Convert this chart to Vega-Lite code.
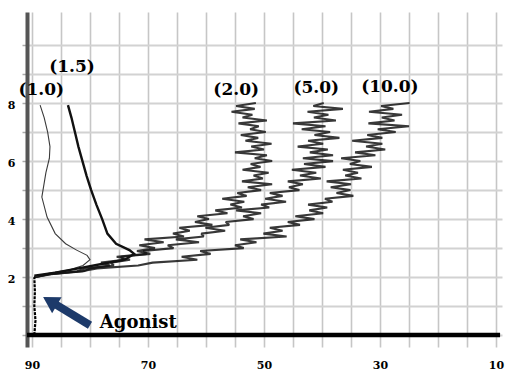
{
  "$schema": "https://vega.github.io/schema/vega-lite/v6.json",
  "width": 475,
  "height": 335,
  "autosize": {"type": "none"},
  "padding": {"left": 27, "top": 12, "right": 6, "bottom": 32},
  "background": "white",
  "config": {"view": {"stroke": null}},
  "datasets": {
    "traces": [
      {"s":"base","t":0,"v":89.6},{"s":"base","t":0.5,"v":89.4},{"s":"base","t":1.0,"v":89.6},{"s":"base","t":1.5,"v":89.5},{"s":"base","t":2.0,"v":89.6},
      {"s":"1.0","t":2.0,"v":89.6},{"s":"1.0","t":2.07,"v":88.5},{"s":"1.0","t":2.14,"v":86.9},{"s":"1.0","t":2.25,"v":83.5},{"s":"1.0","t":2.4,"v":81.2},{"s":"1.0","t":2.6,"v":80.0},{"s":"1.0","t":2.75,"v":80.5},{"s":"1.0","t":2.93,"v":82.3},{"s":"1.0","t":3.15,"v":84.2},{"s":"1.0","t":3.5,"v":86.0},{"s":"1.0","t":4.07,"v":87.4},{"s":"1.0","t":4.76,"v":88.3},{"s":"1.0","t":5.0,"v":88.1},{"s":"1.0","t":5.6,"v":87.6},{"s":"1.0","t":6.1,"v":87.0},{"s":"1.0","t":6.5,"v":86.9},{"s":"1.0","t":7.0,"v":87.3},{"s":"1.0","t":7.5,"v":87.9},{"s":"1.0","t":7.93,"v":88.6},
      {"s":"1.5","t":2.05,"v":89.6},{"s":"1.5","t":2.15,"v":86.0},{"s":"1.5","t":2.3,"v":82.0},{"s":"1.5","t":2.45,"v":78.0},{"s":"1.5","t":2.6,"v":74.0},{"s":"1.5","t":2.8,"v":72.4},{"s":"1.5","t":2.93,"v":73.2},{"s":"1.5","t":3.15,"v":75.5},{"s":"1.5","t":3.5,"v":77.0},{"s":"1.5","t":4.0,"v":77.9},{"s":"1.5","t":4.5,"v":78.9},{"s":"1.5","t":5.0,"v":79.8},{"s":"1.5","t":5.5,"v":80.6},{"s":"1.5","t":6.0,"v":81.3},{"s":"1.5","t":6.5,"v":82.0},{"s":"1.5","t":7.0,"v":82.6},{"s":"1.5","t":7.5,"v":83.2},{"s":"1.5","t":7.93,"v":83.8},
      {"s":"2.0","t":2.0,"v":89.6},{"s":"2.0","t":2.1,"v":86.7},{"s":"2.0","t":2.2,"v":81.1},{"s":"2.0","t":2.3,"v":79.9},{"s":"2.0","t":2.4,"v":76.6},{"s":"2.0","t":2.5,"v":78.1},{"s":"2.0","t":2.6,"v":74.1},{"s":"2.0","t":2.7,"v":74.7},{"s":"2.0","t":2.8,"v":69.6},{"s":"2.0","t":2.9,"v":71.9},{"s":"2.0","t":3.0,"v":68.8},{"s":"2.0","t":3.1,"v":71.5},{"s":"2.0","t":3.2,"v":67.3},{"s":"2.0","t":3.3,"v":70.6},{"s":"2.0","t":3.4,"v":63.8},{"s":"2.0","t":3.5,"v":65.7},{"s":"2.0","t":3.6,"v":62.8},{"s":"2.0","t":3.7,"v":64.6},{"s":"2.0","t":3.8,"v":58.9},{"s":"2.0","t":3.9,"v":61.9},{"s":"2.0","t":4.0,"v":59.5},{"s":"2.0","t":4.1,"v":61.5},{"s":"2.0","t":4.2,"v":56.3},{"s":"2.0","t":4.3,"v":58.4},{"s":"2.0","t":4.4,"v":53.8},{"s":"2.0","t":4.5,"v":55.8},{"s":"2.0","t":4.6,"v":53.4},{"s":"2.0","t":4.7,"v":57.2},{"s":"2.0","t":4.8,"v":53.0},{"s":"2.0","t":4.9,"v":54.6},{"s":"2.0","t":5.0,"v":50.5},{"s":"2.0","t":5.1,"v":52.8},{"s":"2.0","t":5.2,"v":48.6},{"s":"2.0","t":5.3,"v":53.8},{"s":"2.0","t":5.4,"v":50.2},{"s":"2.0","t":5.5,"v":51.8},{"s":"2.0","t":5.6,"v":49.2},{"s":"2.0","t":5.7,"v":53.7},{"s":"2.0","t":5.8,"v":50.6},{"s":"2.0","t":5.9,"v":52.3},{"s":"2.0","t":6.0,"v":48.6},{"s":"2.0","t":6.1,"v":51.6},{"s":"2.0","t":6.2,"v":49.5},{"s":"2.0","t":6.3,"v":55.0},{"s":"2.0","t":6.4,"v":50.0},{"s":"2.0","t":6.5,"v":52.2},{"s":"2.0","t":6.6,"v":48.7},{"s":"2.0","t":6.7,"v":53.2},{"s":"2.0","t":6.8,"v":51.0},{"s":"2.0","t":6.9,"v":54.0},{"s":"2.0","t":7.0,"v":49.7},{"s":"2.0","t":7.1,"v":52.4},{"s":"2.0","t":7.2,"v":50.9},{"s":"2.0","t":7.3,"v":54.4},{"s":"2.0","t":7.4,"v":49.5},{"s":"2.0","t":7.5,"v":53.7},{"s":"2.0","t":7.6,"v":52.0},{"s":"2.0","t":7.7,"v":55.6},{"s":"2.0","t":7.8,"v":51.6},{"s":"2.0","t":7.9,"v":54.8},{"s":"2.0","t":8.0,"v":51.4},
      {"s":"5.0","t":2.0,"v":89.6},{"s":"5.0","t":2.1,"v":87.0},{"s":"5.0","t":2.2,"v":82.2},{"s":"5.0","t":2.3,"v":80.9},{"s":"5.0","t":2.4,"v":75.9},{"s":"5.0","t":2.5,"v":76.4},{"s":"5.0","t":2.6,"v":73.1},{"s":"5.0","t":2.7,"v":75.4},{"s":"5.0","t":2.8,"v":70.2},{"s":"5.0","t":2.9,"v":70.8},{"s":"5.0","t":3.0,"v":65.6},{"s":"5.0","t":3.1,"v":66.6},{"s":"5.0","t":3.2,"v":61.2},{"s":"5.0","t":3.3,"v":65.2},{"s":"5.0","t":3.4,"v":60.4},{"s":"5.0","t":3.5,"v":60.8},{"s":"5.0","t":3.6,"v":56.7},{"s":"5.0","t":3.7,"v":60.1},{"s":"5.0","t":3.8,"v":56.0},{"s":"5.0","t":3.9,"v":56.6},{"s":"5.0","t":4.0,"v":51.8},{"s":"5.0","t":4.1,"v":53.6},{"s":"5.0","t":4.2,"v":50.5},{"s":"5.0","t":4.3,"v":54.8},{"s":"5.0","t":4.4,"v":49.1},{"s":"5.0","t":4.5,"v":50.5},{"s":"5.0","t":4.6,"v":46.2},{"s":"5.0","t":4.7,"v":49.8},{"s":"5.0","t":4.8,"v":46.8},{"s":"5.0","t":4.9,"v":49.0},{"s":"5.0","t":5.0,"v":43.9},{"s":"5.0","t":5.1,"v":45.7},{"s":"5.0","t":5.2,"v":43.3},{"s":"5.0","t":5.3,"v":45.9},{"s":"5.0","t":5.4,"v":40.2},{"s":"5.0","t":5.5,"v":43.8},{"s":"5.0","t":5.6,"v":41.0},{"s":"5.0","t":5.7,"v":45.2},{"s":"5.0","t":5.8,"v":39.4},{"s":"5.0","t":5.9,"v":43.1},{"s":"5.0","t":6.0,"v":38.1},{"s":"5.0","t":6.1,"v":43.3},{"s":"5.0","t":6.2,"v":38.1},{"s":"5.0","t":6.3,"v":42.1},{"s":"5.0","t":6.4,"v":39.0},{"s":"5.0","t":6.5,"v":44.2},{"s":"5.0","t":6.6,"v":39.8},{"s":"5.0","t":6.7,"v":42.4},{"s":"5.0","t":6.8,"v":37.0},{"s":"5.0","t":6.9,"v":41.3},{"s":"5.0","t":7.0,"v":38.6},{"s":"5.0","t":7.1,"v":43.5},{"s":"5.0","t":7.2,"v":39.4},{"s":"5.0","t":7.3,"v":45.0},{"s":"5.0","t":7.4,"v":37.6},{"s":"5.0","t":7.5,"v":41.4},{"s":"5.0","t":7.6,"v":38.9},{"s":"5.0","t":7.7,"v":42.5},{"s":"5.0","t":7.8,"v":36.4},{"s":"5.0","t":7.9,"v":41.5},{"s":"5.0","t":8.0,"v":39.7},
      {"s":"10.0","t":2.0,"v":89.6},{"s":"10.0","t":2.1,"v":87.2},{"s":"10.0","t":2.2,"v":81.4},{"s":"10.0","t":2.3,"v":78.8},{"s":"10.0","t":2.4,"v":71.7},{"s":"10.0","t":2.5,"v":69.2},{"s":"10.0","t":2.6,"v":61.5},{"s":"10.0","t":2.7,"v":64.2},{"s":"10.0","t":2.8,"v":59.2},{"s":"10.0","t":2.9,"v":61.0},{"s":"10.0","t":3.0,"v":53.5},{"s":"10.0","t":3.1,"v":55.0},{"s":"10.0","t":3.2,"v":51.3},{"s":"10.0","t":3.3,"v":54.1},{"s":"10.0","t":3.4,"v":46.1},{"s":"10.0","t":3.5,"v":50.1},{"s":"10.0","t":3.6,"v":46.8},{"s":"10.0","t":3.7,"v":49.0},{"s":"10.0","t":3.8,"v":43.8},{"s":"10.0","t":3.9,"v":45.9},{"s":"10.0","t":4.0,"v":41.3},{"s":"10.0","t":4.1,"v":44.6},{"s":"10.0","t":4.2,"v":39.8},{"s":"10.0","t":4.3,"v":42.2},{"s":"10.0","t":4.4,"v":39.1},{"s":"10.0","t":4.5,"v":42.4},{"s":"10.0","t":4.6,"v":38.2},{"s":"10.0","t":4.7,"v":39.5},{"s":"10.0","t":4.8,"v":34.6},{"s":"10.0","t":4.9,"v":37.5},{"s":"10.0","t":5.0,"v":35.1},{"s":"10.0","t":5.1,"v":38.5},{"s":"10.0","t":5.2,"v":35.0},{"s":"10.0","t":5.3,"v":39.2},{"s":"10.0","t":5.4,"v":33.2},{"s":"10.0","t":5.5,"v":36.0},{"s":"10.0","t":5.6,"v":33.8},{"s":"10.0","t":5.7,"v":36.4},{"s":"10.0","t":5.8,"v":31.4},{"s":"10.0","t":5.9,"v":35.2},{"s":"10.0","t":6.0,"v":33.4},{"s":"10.0","t":6.1,"v":36.7},{"s":"10.0","t":6.2,"v":30.8},{"s":"10.0","t":6.3,"v":34.3},{"s":"10.0","t":6.4,"v":29.1},{"s":"10.0","t":6.5,"v":32.4},{"s":"10.0","t":6.6,"v":29.6},{"s":"10.0","t":6.7,"v":34.8},{"s":"10.0","t":6.8,"v":29.6},{"s":"10.0","t":6.9,"v":32.2},{"s":"10.0","t":7.0,"v":27.3},{"s":"10.0","t":7.1,"v":30.4},{"s":"10.0","t":7.2,"v":25.0},{"s":"10.0","t":7.3,"v":32.0},{"s":"10.0","t":7.4,"v":27.5},{"s":"10.0","t":7.5,"v":29.7},{"s":"10.0","t":7.6,"v":26.2},{"s":"10.0","t":7.7,"v":31.9},{"s":"10.0","t":7.8,"v":27.7},{"s":"10.0","t":7.9,"v":29.8},{"s":"10.0","t":8.0,"v":24.9}
    ],
    "zero": [{"t":0,"v":90.86,"v2":9.3}],
    "arrow": [{"t":0.34,"v":80.0},{"t":1.07,"v":86.0}],
    "head": [{"t":1.17,"v":86.9}],
    "labels": [
      {"t":8.45,"v":88.4,"txt":"(1.0)"},
      {"t":9.24,"v":83.1,"txt":"(1.5)"},
      {"t":8.45,"v":54.8,"txt":"(2.0)"},
      {"t":8.52,"v":41.0,"txt":"(5.0)"},
      {"t":8.55,"v":28.3,"txt":"(10.0)"}
    ],
    "note": [{"t":0.24,"v":78.3,"txt":"Agonist"}]
  },
  "encoding": {
    "x": {
      "field": "v", "type": "quantitative",
      "scale": {"domain": [8.97, 90.86], "reverse": true, "nice": false, "zero": false},
      "axis": {
        "title": null, "values": [10,15,20,25,30,35,40,45,50,55,60,65,70,75,80,85,90],
        "labelExpr": "datum.value % 20 == 10 ? datum.label : ''",
        "grid": true, "gridColor": "#c6c6c6", "gridWidth": 1.6,
        "domain": false, "ticks": false, "labelPadding": 12,
        "labelFont": "DejaVu Serif", "labelFontWeight": "bold", "labelFontSize": 11, "labelColor": "#000"
      }
    },
    "y": {
      "field": "t", "type": "quantitative",
      "scale": {"domain": [-0.41, 11.14], "nice": false, "zero": false},
      "axis": {
        "title": null, "values": [0,1,2,3,4,5,6,7,8,9,10],
        "labelExpr": "datum.value > 0 && datum.value < 10 && datum.value % 2 == 0 ? datum.label : ''",
        "grid": true, "gridColor": "#d2d2d2", "gridWidth": 2.2,
        "domain": true, "domainColor": "#555", "domainWidth": 4,
        "ticks": true, "tickSize": 5, "tickColor": "#aaa", "tickWidth": 1.5,
        "labelPadding": 7, "labelOffset": 2,
        "labelFont": "DejaVu Serif", "labelFontWeight": "bold", "labelFontSize": 11, "labelColor": "#000"
      }
    }
  },
  "layer": [
    {
      "data": {"name": "zero"},
      "mark": {"type": "rule", "color": "#000", "strokeWidth": 4.5},
      "encoding": {"x2": {"field": "v2"}}
    },
    {
      "data": {"name": "traces"},
      "transform": [{"filter": "datum.s == '2.0' || datum.s == '5.0' || datum.s == '10.0'"}],
      "mark": {"type": "line", "color": "#151515", "strokeWidth": 2.1, "opacity": 0.85, "strokeJoin": "bevel"},
      "encoding": {"detail": {"field": "s"}, "order": {"field": "t", "type": "quantitative"}}
    },
    {
      "data": {"name": "traces"},
      "transform": [{"filter": "datum.s == '1.0'"}],
      "mark": {"type": "line", "color": "#3a3a3a", "strokeWidth": 1.1},
      "encoding": {"order": {"field": "t", "type": "quantitative"}}
    },
    {
      "data": {"name": "traces"},
      "transform": [{"filter": "datum.s == '1.5'"}],
      "mark": {"type": "line", "color": "#111", "strokeWidth": 2.4},
      "encoding": {"order": {"field": "t", "type": "quantitative"}}
    },
    {
      "data": {"name": "traces"},
      "transform": [{"filter": "datum.s == 'base'"}],
      "mark": {"type": "line", "color": "#000", "strokeWidth": 2.2, "strokeDash": [3, 1]},
      "encoding": {"order": {"field": "t", "type": "quantitative"}}
    },
    {
      "data": {"name": "arrow"},
      "mark": {"type": "line", "color": "#1d3a6a", "strokeWidth": 8, "strokeCap": "butt"},
      "encoding": {"order": {"field": "t", "type": "quantitative"}}
    },
    {
      "data": {"name": "head"},
      "mark": {"type": "point", "shape": "triangle-up", "filled": true, "color": "#1d3a6a", "opacity": 1, "size": 340, "angle": 300.7}
    },
    {
      "data": {"name": "labels"},
      "mark": {"type": "text", "font": "DejaVu Serif", "fontWeight": "bold", "fontSize": 17, "color": "#000", "align": "center", "baseline": "middle"},
      "encoding": {"text": {"field": "txt"}}
    },
    {
      "data": {"name": "note"},
      "mark": {"type": "text", "font": "DejaVu Serif", "fontWeight": "bold", "fontSize": 18, "color": "#000", "align": "left", "baseline": "alphabetic"},
      "encoding": {"text": {"field": "txt"}}
    }
  ]
}
